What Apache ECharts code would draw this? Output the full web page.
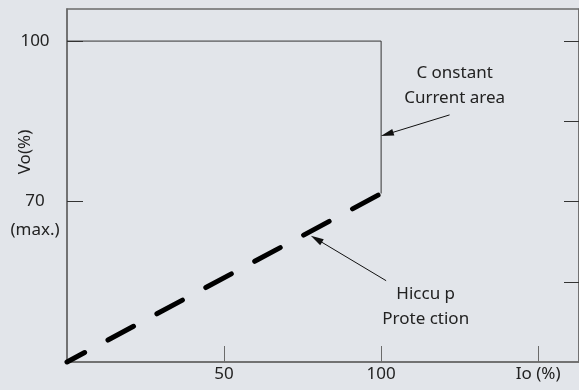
<!DOCTYPE html>
<html>
<head>
<meta charset="utf-8">
<script src="https://cdn.jsdelivr.net/npm/echarts@6/dist/echarts.min.js"></script>
<style>
  html, body { margin: 0; padding: 0; background: #e2e5ea; }
  #chart { width: 579px; height: 390px; }
</style>
</head>
<body>
<div id="chart"></div>
<script>
// 数据
const xTicks = [50, 100, 150];
const xTickLabels = ['50', '100', 'Io (%)'];
const yLeftTicks = [70, 100];
const yLeftLabels = ['70\n(max.)', '100'];
const yRightTicks = [55, 70, 85, 100];
const limitCurve = [[0, 100], [100, 100], [100, 71.5]];
const hiccupCurve = [[0, 40], [100, 71.5]];
const noteTexts = ['C onstant\nCurrent area', 'Hiccu p\nProte ction'];
const notePoints = [[123.4, 91.6], [114.2, 50.3]];
const arrowStarts = [[121.8, 86.2], [101.6, 55.2]];
const arrowEnds = [[101.9, 82.6], [79.4, 63.0]];

const textColor = '#222';
const axisColor = '#6b6b6b';
const font = 'Noto Sans';
const fs = 17;

const xLabel = v => xTickLabels[xTicks.indexOf(v)] || '';
const yLabel = v => {
  const s = yLeftLabels[yLeftTicks.indexOf(v)];
  if (!s) return '';
  const parts = s.split('\n');
  return '{a|' + parts[0] + '}\n{a|' + (parts[1] || ' ') + '}';
};

const option = {
  backgroundColor: '#e2e5ea',
  animation: false,
  grid: {
    left: 67, right: -3, top: 9, bottom: 28,
    show: true, borderColor: axisColor, borderWidth: 1.5,
    backgroundColor: 'transparent'
  },
  xAxis: {
    type: 'value', min: 0, max: 163,
    splitLine: { show: false },
    axisLine: { lineStyle: { color: axisColor, width: 1.5 } },
    axisTick: { inside: true, length: 16, customValues: xTicks, lineStyle: { color: axisColor, width: 1 } },
    axisLabel: {
      customValues: xTicks, formatter: xLabel, margin: 4,
      color: textColor, fontFamily: font, fontSize: fs
    }
  },
  yAxis: [
    {
      type: 'value', min: 40, max: 106, position: 'left',
      splitLine: { show: false },
      axisLine: { show: true, lineStyle: { color: axisColor, width: 1.5 } },
      axisTick: { show: true, inside: true, length: 16, customValues: yLeftTicks, lineStyle: { color: '#333', width: 1 } },
      axisLabel: {
        customValues: yLeftTicks, formatter: yLabel, margin: 32, align: 'center',
        padding: [29, 0, 0, 0],
        rich: { a: { color: textColor, fontFamily: font, fontSize: fs, lineHeight: 29, align: 'center' } }
      }
    },
    {
      type: 'value', min: 40, max: 106, position: 'right',
      splitLine: { show: false },
      axisLine: { show: true, lineStyle: { color: axisColor, width: 1.5 } },
      axisTick: { show: true, inside: true, length: 15, customValues: yRightTicks, lineStyle: { color: '#333', width: 1 } },
      axisLabel: { show: false }
    }
  ],
  series: [
    {
      type: 'line', data: limitCurve, symbol: 'none', clip: false,
      lineStyle: { color: '#333', width: 1 },
      markPoint: {
        symbol: 'circle', symbolSize: 0, silent: true,
        label: {
          show: true, position: 'inside', formatter: '{b}',
          color: textColor, fontFamily: font, fontSize: fs, lineHeight: 25
        },
        data: noteTexts.map((t, i) => ({ name: t, coord: notePoints[i] }))
      },
      markLine: {
        silent: true, symbol: ['none', 'triangle'], symbolSize: [7, 13],
        label: { show: false },
        lineStyle: { color: '#111', width: 1, type: 'solid' },
        data: arrowStarts.map((s, i) => [{ coord: s }, { coord: arrowEnds[i] }])
      }
    },
    {
      type: 'line', data: hiccupCurve, symbol: 'none', clip: false,
      lineStyle: { color: '#000', width: 5, type: [29, 26.5], dashOffset: 9, cap: 'round' }
    }
  ],
  graphic: [
    {
      type: 'text', x: 25, y: 152, rotation: Math.PI / 2,
      style: { text: 'Vo(%)', fill: textColor, font: fs + 'px "Noto Sans"', align: 'center', verticalAlign: 'middle' }
    }
  ]
};

const myChart = echarts.init(document.getElementById('chart'));
myChart.setOption(option);
</script>
</body>
</html>
